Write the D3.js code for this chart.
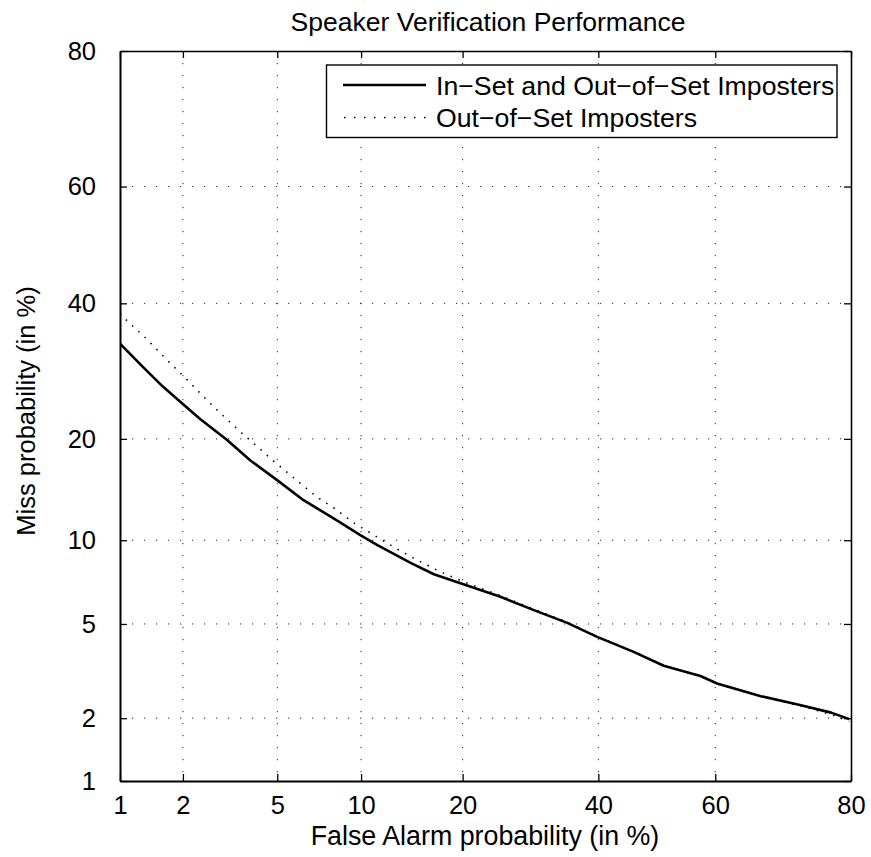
<!DOCTYPE html>
<html>
<head>
<meta charset="utf-8">
<script src="https://cdn.jsdelivr.net/npm/d3@7"></script>
<style>
  html, body { margin: 0; padding: 0; background: #fff; }
  svg { display: block; font-family: "Liberation Sans", Arial, Helvetica, sans-serif; }
</style>
</head>
<body>
<svg id="chart" width="871" height="857"></svg>
<script>
// ---- data (percent) ----
const titleText = "Speaker Verification Performance";
const xLabelText = "False Alarm probability (in %)";
const yLabelText = "Miss probability (in %)";
const xTicks = [1, 2, 5, 10, 20, 40, 60, 80];
const yTicks = [1, 2, 5, 10, 20, 40, 60, 80];
const seriesNames = ["In\u2212Set and Out\u2212of\u2212Set Imposters", "Out\u2212of\u2212Set Imposters"];

const allFa   = [1.0, 1.30, 1.62, 1.98, 2.39, 3.12, 3.90, 4.98, 6.29, 8.28, 9.94, 11.3, 14.3, 16.7, 20.1, 24.9, 29.7, 34.9, 39.8, 46.0, 51.2, 57.5, 60.3, 67.4, 73.4, 77.5, 79.8];
const allMiss = [33.4, 29.8, 26.9, 24.6, 22.5, 19.9, 17.5, 15.4, 13.4, 11.6, 10.4, 9.63, 8.38, 7.65, 7.05, 6.34, 5.65, 5.05, 4.45, 3.87, 3.39, 3.07, 2.85, 2.51, 2.29, 2.12, 1.98];

const oosFa   = [1.0, 1.10, 1.33, 1.71, 2.05, 2.39, 2.83, 3.61, 4.76, 6.02, 7.04, 8.17, 9.44, 11.0, 13.2, 15.1, 17.2, 20.1, 24.9, 29.7, 34.9, 39.8, 46.0, 51.2, 57.5, 60.3, 67.4, 73.4, 77.5, 79.8];
const oosMiss = [38.3, 36.9, 34.4, 30.7, 28.2, 26.0, 23.7, 20.7, 17.6, 15.2, 13.7, 12.6, 11.4, 10.4, 9.27, 8.52, 7.86, 7.19, 6.40, 5.70, 5.08, 4.47, 3.88, 3.40, 3.06, 2.84, 2.50, 2.27, 2.08, 1.93];

// ---- inverse normal CDF (Acklam) ----
function probit(p) {
  const a = [-3.969683028665376e+01, 2.209460984245205e+02, -2.759285104469687e+02, 1.383577518672690e+02, -3.066479806614716e+01, 2.506628277459239e+00];
  const b = [-5.447609879822406e+01, 1.615858368580409e+02, -1.556989798598866e+02, 6.680131188771972e+01, -1.328068155288572e+01];
  const c = [-7.784894002430293e-03, -3.223964580411365e-01, -2.400758277161838e+00, -2.549732539343734e+00, 4.374664141464968e+00, 2.938163982698783e+00];
  const d = [7.784695709041462e-03, 3.224671290700398e-01, 2.445134137142996e+00, 3.754408661907416e+00];
  const pl = 0.02425, ph = 1 - pl;
  let q, r;
  if (p < pl) {
    q = Math.sqrt(-2 * Math.log(p));
    return (((((c[0]*q+c[1])*q+c[2])*q+c[3])*q+c[4])*q+c[5]) / ((((d[0]*q+d[1])*q+d[2])*q+d[3])*q+1);
  } else if (p <= ph) {
    q = p - 0.5; r = q * q;
    return (((((a[0]*r+a[1])*r+a[2])*r+a[3])*r+a[4])*r+a[5])*q / (((((b[0]*r+b[1])*r+b[2])*r+b[3])*r+b[4])*r+1);
  } else {
    q = Math.sqrt(-2 * Math.log(1 - p));
    return -(((((c[0]*q+c[1])*q+c[2])*q+c[3])*q+c[4])*q+c[5]) / ((((d[0]*q+d[1])*q+d[2])*q+d[3])*q+1);
  }
}
const pct = v => probit(v / 100);

// ---- layout ----
const L = 120, R = 851, T = 51, B = 781;
const svg = d3.select("#chart");

const x = d3.scaleLinear().domain([pct(1), pct(80)]).range([L, R]);
const y = d3.scaleLinear().domain([pct(1), pct(80)]).range([B, T]);

// grid
const grid = svg.append("g").attr("stroke", "#222").attr("stroke-width", 1)
  .attr("stroke-dasharray", "1.2,10.8");
grid.selectAll(".gx").data(xTicks.slice(1, -1)).enter().append("line")
  .attr("x1", d => x(pct(d))).attr("x2", d => x(pct(d)))
  .attr("y1", T).attr("y2", B);
grid.selectAll(".gy").data(yTicks.slice(1, -1)).enter().append("line")
  .attr("y1", d => y(pct(d))).attr("y2", d => y(pct(d)))
  .attr("x1", L).attr("x2", R);

// axes
const fs = 25.5;
const xAxis = d3.axisBottom(x).tickValues(xTicks.map(pct)).tickFormat((d, i) => xTicks[i])
  .tickSizeInner(-7).tickSizeOuter(0).tickPadding(15);
const yAxis = d3.axisLeft(y).tickValues(yTicks.map(pct)).tickFormat((d, i) => yTicks[i])
  .tickSizeInner(-7).tickSizeOuter(0).tickPadding(24);
const xTop = d3.axisTop(x).tickValues(xTicks.map(pct)).tickFormat("").tickSizeInner(-7).tickSizeOuter(0);
const yRight = d3.axisRight(y).tickValues(yTicks.map(pct)).tickFormat("").tickSizeInner(-7).tickSizeOuter(0);

function styleAxis(g, w) {
  g.select(".domain").attr("stroke", "#000").attr("stroke-width", w);
  g.selectAll(".tick line").attr("stroke", "#000").attr("stroke-width", 1.3);
  g.selectAll(".tick text").attr("fill", "#000").style("font-size", fs + "px")
    .style("font-family", '"Liberation Sans", Arial, Helvetica, sans-serif');
}
svg.append("g").attr("transform", `translate(0,${B})`).call(xAxis).call(g => styleAxis(g, 2));
svg.append("g").attr("transform", `translate(${L},0)`).call(yAxis).call(g => styleAxis(g, 2));
svg.append("g").attr("transform", `translate(0,${T})`).call(xTop).call(g => styleAxis(g, 1.6));
svg.append("g").attr("transform", `translate(${R},0)`).call(yRight).call(g => styleAxis(g, 1.6));

// curves
const line = d3.line().x(d => x(pct(d[0]))).y(d => y(pct(d[1])));
const clip = svg.append("clipPath").attr("id", "plotclip").append("rect")
  .attr("x", L).attr("y", T).attr("width", R - L).attr("height", B - T);

svg.append("path").datum(oosFa.map((v, i) => [v, oosMiss[i]]))
  .attr("d", line).attr("fill", "none").attr("stroke", "#000")
  .attr("stroke-width", 1.6).attr("stroke-dasharray", "1.5,7")
  .attr("clip-path", "url(#plotclip)");
svg.append("path").datum(allFa.map((v, i) => [v, allMiss[i]]))
  .attr("d", line).attr("fill", "none").attr("stroke", "#000")
  .attr("stroke-width", 2.6).attr("stroke-linejoin", "round")
  .attr("clip-path", "url(#plotclip)");

// legend
const lg = svg.append("g");
lg.append("rect").attr("x", 326.5).attr("y", 65).attr("width", 510.5).attr("height", 72.5)
  .attr("fill", "#fff").attr("stroke", "#000").attr("stroke-width", 1.4);
const rows = [85, 117.5];
lg.append("line").attr("x1", 343).attr("x2", 426).attr("y1", rows[0]).attr("y2", rows[0])
  .attr("stroke", "#000").attr("stroke-width", 2.6);
lg.append("line").attr("x1", 344).attr("x2", 426).attr("y1", rows[1]).attr("y2", rows[1])
  .attr("stroke", "#000").attr("stroke-width", 1.6).attr("stroke-dasharray", "1.5,8.5");
seriesNames.forEach((n, i) => {
  lg.append("text").attr("x", 436).attr("y", rows[i] + 9.5).style("font-size", "26.7px").text(n);
});

// titles
svg.append("text").attr("x", 488).attr("y", 31).attr("text-anchor", "middle")
  .style("font-size", "26.5px").text(titleText);
svg.append("text").attr("x", 485).attr("y", 845).attr("text-anchor", "middle")
  .style("font-size", "26.8px").text(xLabelText);
svg.append("text").attr("transform", "translate(35,411) rotate(-90)").attr("text-anchor", "middle")
  .style("font-size", "25.5px").text(yLabelText);
</script>
</body>
</html>
